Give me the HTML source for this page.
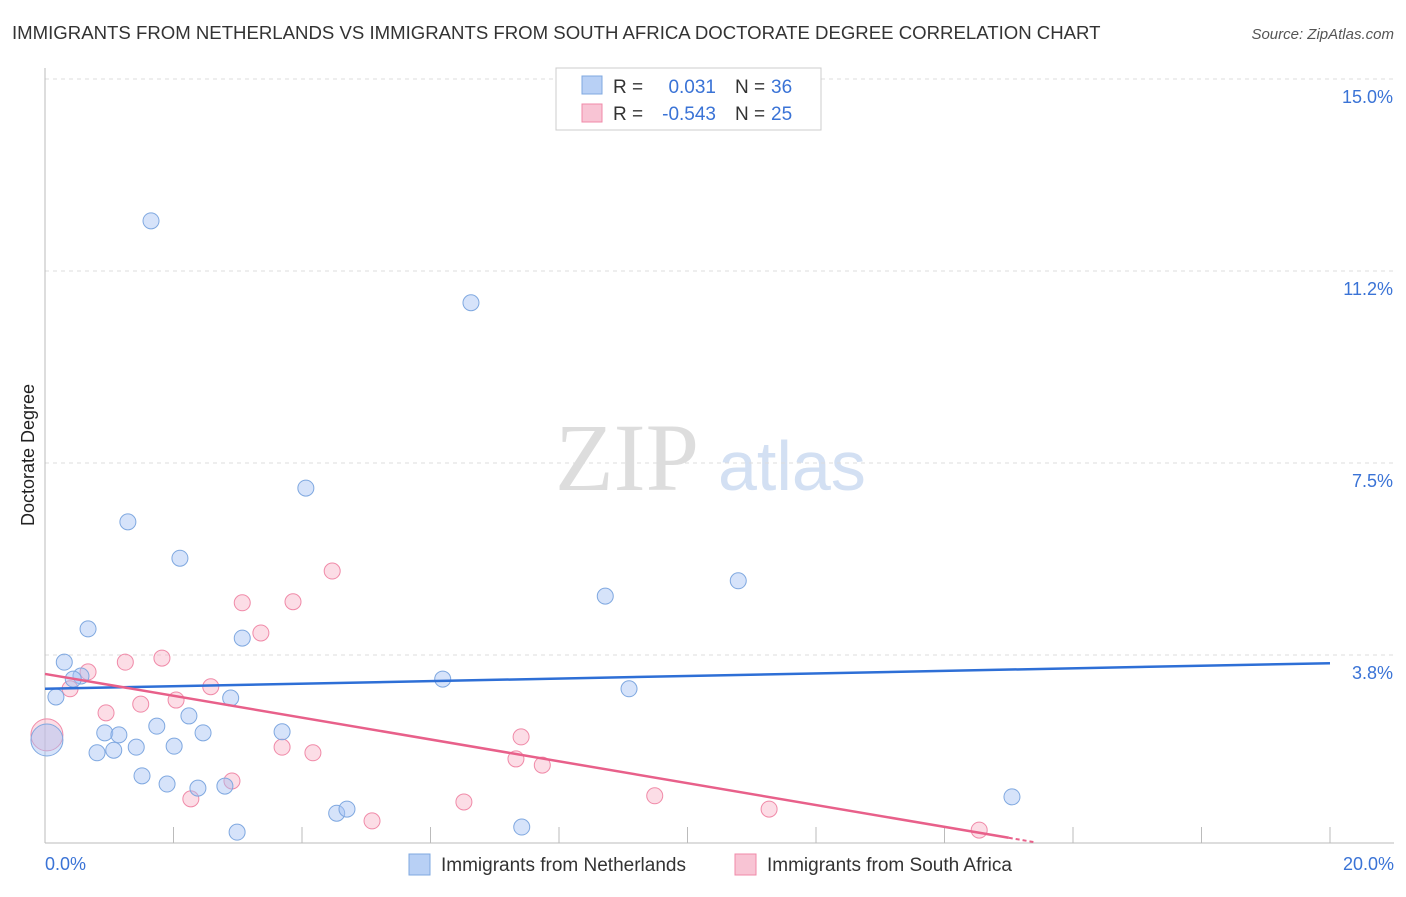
<!DOCTYPE html>
<html><head><meta charset="utf-8"><style>
body{margin:0;background:#fff;font-family:"Liberation Sans",sans-serif;}
</style></head><body>
<svg width="1406" height="892" xmlns="http://www.w3.org/2000/svg" id="chart" font-family="Liberation Sans, sans-serif">
<text x="12" y="39" font-size="18.6" fill="#333">IMMIGRANTS FROM NETHERLANDS VS IMMIGRANTS FROM SOUTH AFRICA DOCTORATE DEGREE CORRELATION CHART</text>
<text x="1394" y="39" font-size="15" fill="#555" font-style="italic" text-anchor="end">Source: ZipAtlas.com</text>
<text x="34" y="455" font-size="18" fill="#222" transform="rotate(-90 34 455)" text-anchor="middle">Doctorate Degree</text>
<text x="555" y="490" font-size="96" fill="#ddd" font-family="Liberation Serif, serif">ZIP</text>
<text x="718" y="490" font-size="70" fill="#d3e0f3">atlas</text>
<g id="grid"></g><g id="axes"></g><g id="pts"></g><g id="lines"></g>
<g>
<rect x="556" y="68" width="265" height="62" fill="#fff" stroke="#ccc"/>
<rect x="582" y="76" width="20" height="18" fill="#b8d0f5" stroke="#7fa8e0"/>
<text x="613" y="93" font-size="19" fill="#333">R = </text><text x="716" y="93" font-size="19" fill="#3a73d6" text-anchor="end">0.031</text>
<text x="735" y="93" font-size="19" fill="#333">N = </text><text x="771" y="93" font-size="19" fill="#3a73d6">36</text>
<rect x="582" y="104" width="20" height="18" fill="#f8c4d4" stroke="#f08aa8"/>
<text x="613" y="120" font-size="19" fill="#333">R = </text><text x="716" y="120" font-size="19" fill="#3a73d6" text-anchor="end">-0.543</text>
<text x="735" y="120" font-size="19" fill="#333">N = </text><text x="771" y="120" font-size="19" fill="#3a73d6">25</text>
</g>
<g>
<rect x="409" y="854" width="21" height="21" fill="#b8d0f5" stroke="#7fa8e0"/>
<text x="441" y="871" font-size="19" fill="#333">Immigrants from Netherlands</text>
<rect x="735" y="854" width="21" height="21" fill="#f8c4d4" stroke="#f08aa8"/>
<text x="767" y="871" font-size="19" fill="#333">Immigrants from South Africa</text>
</g>
</svg>
<script>
const blueX=[1.65,6.63,4.06,1.29,2.10,8.72,10.79,0.67,3.07,0.30,0.56,0.44,0.17,6.19,9.09,2.89,2.24,1.74,0.93,1.15,2.46,3.69,0.03,0.81,1.07,1.42,2.01,1.51,1.90,2.38,2.80,2.99,4.54,4.70,7.42,15.05];
const blueY=[12.23,10.63,7.01,6.35,5.64,4.90,5.20,4.26,4.08,3.61,3.34,3.28,2.93,3.28,3.09,2.91,2.56,2.36,2.23,2.19,2.23,2.25,2.09,1.84,1.89,1.95,1.97,1.39,1.23,1.15,1.19,0.29,0.66,0.74,0.39,0.98];
const pinkX=[0.03,0.39,0.67,1.25,1.82,0.95,1.49,2.04,2.58,3.07,3.86,4.47,3.36,3.69,4.17,2.91,2.27,5.09,6.52,7.41,7.33,7.74,9.49,11.27,14.54];
const pinkY=[2.19,3.09,3.42,3.61,3.69,2.62,2.79,2.87,3.13,4.77,4.79,5.39,4.18,1.95,1.84,1.29,0.94,0.51,0.88,2.15,1.72,1.60,1.00,0.74,0.33];
const yTicks=[3.75,7.5,11.25,15];
const yTickLabels=["3.8%","7.5%","11.2%","15.0%"];
const blueLine=[3.09,3.59];
const pinkLine=[3.38,0.18];
const NS="http://www.w3.org/2000/svg";
const X=v=>45+v*64.25, Y=v=>847-v*51.2;
function mk(t,a,p){const e=document.createElementNS(NS,t);for(const k in a)e.setAttribute(k,a[k]);document.getElementById(p).appendChild(e);return e;}
yTicks.forEach((v,i)=>{
 const l=mk('line',{x1:45,x2:1394,y1:Y(v),y2:Y(v),stroke:'#ddd','stroke-dasharray':'4,4'},'grid');
 
 
 const t=mk('text',{x:1393,y:Y(v)+24,'font-size':18,fill:'#3a73d6','text-anchor':'end'},'grid');t.textContent=yTickLabels[i];
 
 
});
mk('line',{x1:45,x2:45,y1:68,y2:843,stroke:'#bbb'},'axes');
mk('line',{x1:45,x2:1394,y1:843,y2:843,stroke:'#bbb'},'axes');
for(let v=2;v<=20;v+=2){const l=mk('line',{x1:X(v),x2:X(v),y1:827,y2:843,stroke:'#bbb'},'axes');
 
 }
let t=mk('text',{x:45,y:870,'font-size':18,fill:'#3a73d6'},'axes');t.textContent='0.0%';

t=mk('text',{x:1394,y:870,'font-size':18,fill:'#3a73d6','text-anchor':'end'},'axes');t.textContent='20.0%';

function pts(xs,ys,f,s,name){xs.forEach((x,i)=>{const c=mk('circle',{cx:X(x),cy:Y(ys[i]),r:(x<0.1)?16:8,fill:f,stroke:s,'stroke-width':1},'pts');
 
 });}
pts(pinkX,pinkY,'rgba(248,180,200,0.45)','#f08aa8','south-africa-point');
pts(blueX,blueY,'rgba(164,194,244,0.45)','#7fa8e0','netherlands-point');
let bl=mk('line',{x1:X(0),y1:Y(blueLine[0]),x2:X(20),y2:Y(blueLine[1]),stroke:'#2e6fd6','stroke-width':2.5},'lines');


const pv=x=>pinkLine[0]+(pinkLine[1]-pinkLine[0])*x/15;
let pl=mk('line',{x1:X(0),y1:Y(pv(0)),x2:X(15),y2:Y(pv(15)),stroke:'#e8608a','stroke-width':2.5},'lines');


let pd=mk('line',{x1:X(15),y1:Y(pv(15)),x2:X(15.4),y2:Y(pv(15.4)),stroke:'#e8608a','stroke-width':2,'stroke-dasharray':'4,3'},'lines');


</script>
</body></html>
